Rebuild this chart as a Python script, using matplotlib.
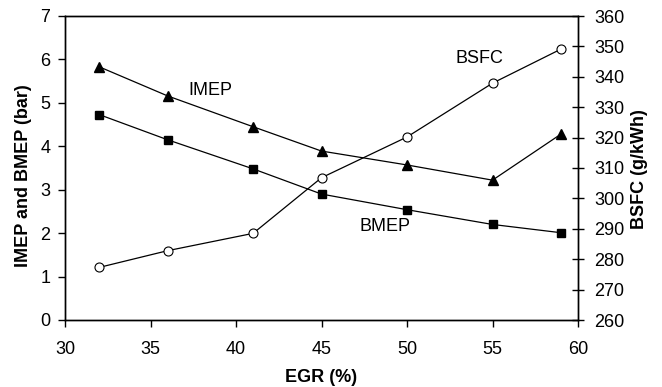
import matplotlib
matplotlib.use("Agg")
import matplotlib.pyplot as plt

plt.rcParams['font.family'] = ['Liberation Sans', 'DejaVu Sans']

egr = [32, 36, 41, 45, 50, 55, 59]
imep = [5.83, 5.16, 4.45, 3.89, 3.57, 3.22, 4.28]
bmep = [4.73, 4.15, 3.48, 2.90, 2.54, 2.20, 2.01]
bsfc = [277.3, 282.8, 288.5, 306.8, 320.2, 337.9, 349.1]

fig = plt.figure(figsize=(6.62, 3.87), dpi=100)
ax = fig.add_axes([65/662, 1-320/387, (578-65)/662, (320-16)/387])
ax2 = ax.twinx()

ax.plot(egr, imep, color='black', lw=0.9, marker='^', ms=6.5, mfc='black', mec='black')
ax.plot(egr, bmep, color='black', lw=0.9, marker='s', ms=6, mfc='black', mec='black')
ax2.plot(egr, bsfc, color='black', lw=0.9, marker='o', ms=6.5, mfc='white', mec='black', mew=0.8)

ax.set_xlim(30, 60)
ax.set_ylim(0, 7)
ax2.set_ylim(260, 360)
ax.set_xticks(range(30, 61, 5))
ax.set_yticks(range(0, 8))
ax2.set_yticks(range(260, 361, 10))

fs = 13
ax.tick_params(axis='x', labelsize=fs, direction='out', length=5, width=1, pad=10)
ax.tick_params(axis='y', labelsize=fs, direction='out', length=5, width=1, pad=5.5)
ax2.tick_params(axis='y', labelsize=fs, direction='inout', length=8, width=1, pad=7.5)
ax.set_xlabel('EGR (%)', fontsize=fs, fontweight='bold', labelpad=8)
ax.set_ylabel('IMEP and BMEP (bar)', fontsize=fs, fontweight='bold')
ax2.set_ylabel('BSFC (g/kWh)', fontsize=fs, fontweight='bold')
ax.yaxis.set_label_coords(-0.064, 0.474)
ax2.yaxis.set_label_coords(1.104, 0.497)

for a in (ax, ax2):
    for s in a.spines.values():
        s.set_linewidth(1)

ax.text(38.5, 5.28, 'IMEP', fontsize=fs, ha='center', va='center')
ax2.text(54.24, 345.9, 'BSFC', fontsize=fs, ha='center', va='center')
ax.text(48.73, 2.15, 'BMEP', fontsize=fs, ha='center', va='center')

fig.savefig('out.png', dpi=100)
